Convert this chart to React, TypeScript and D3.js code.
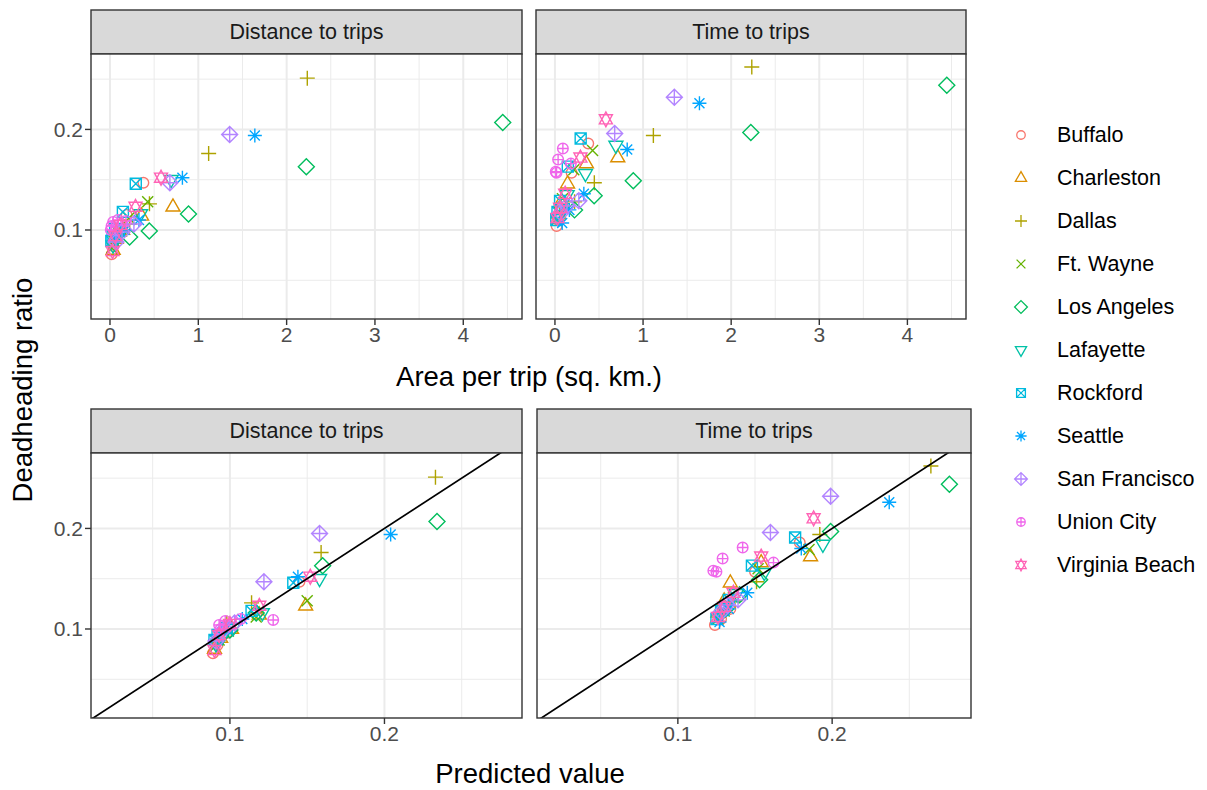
import React from "react";
import * as d3 from "d3";

const cities = ["Buffalo", "Charleston", "Dallas", "Ft. Wayne", "Los Angeles", "Lafayette", "Rockford", "Seattle", "San Francisco", "Union City", "Virginia Beach"];
const colors = ["#F8766D", "#DB8E00", "#AEA200", "#64B200", "#00BD5C", "#00C1A7", "#00BADE", "#00A6FF", "#B385FF", "#EF67EB", "#FF63B6"];

// area per trip (sq. km.) per city
const areaPerTrip = [
  [0.378, 0.189, 0.076, 0.038, 0.019],
  [0.713, 0.357, 0.143, 0.071, 0.036],
  [2.234, 1.117, 0.447, 0.223, 0.112],
  [0.427, 0.214, 0.085, 0.043, 0.021],
  [4.447, 2.223, 0.889, 0.445, 0.222],
  [0.692, 0.346, 0.138, 0.069, 0.035],
  [0.292, 0.146, 0.058, 0.029, 0.015],
  [1.640, 0.820, 0.328, 0.164, 0.082],
  [1.355, 0.678, 0.271, 0.136, 0.068],
  [0.181, 0.090, 0.036, 0.018, 0.009],
  [0.578, 0.289, 0.116, 0.058, 0.029],
];
// deadheading ratio, distance to trips
const distRatio = [
  [0.147, 0.115, 0.096, 0.084, 0.076],
  [0.123, 0.114, 0.100, 0.091, 0.080],
  [0.251, 0.176, 0.126, 0.106, 0.094],
  [0.128, 0.112, 0.098, 0.089, 0.082],
  [0.207, 0.163, 0.116, 0.099, 0.093],
  [0.150, 0.116, 0.101, 0.092, 0.085],
  [0.146, 0.118, 0.101, 0.094, 0.089],
  [0.194, 0.152, 0.110, 0.100, 0.094],
  [0.195, 0.147, 0.106, 0.098, 0.088],
  [0.109, 0.110, 0.108, 0.104, 0.100],
  [0.152, 0.123, 0.105, 0.094, 0.079],
];
// deadheading ratio, time to trips
const timeRatio = [
  [0.186, 0.157, 0.120, 0.110, 0.104],
  [0.172, 0.166, 0.146, 0.128, 0.116],
  [0.262, 0.194, 0.147, 0.128, 0.118],
  [0.179, 0.160, 0.131, 0.118, 0.110],
  [0.244, 0.197, 0.149, 0.134, 0.120],
  [0.184, 0.156, 0.135, 0.122, 0.112],
  [0.191, 0.163, 0.129, 0.118, 0.110],
  [0.226, 0.180, 0.136, 0.120, 0.107],
  [0.232, 0.196, 0.129, 0.124, 0.117],
  [0.166, 0.181, 0.170, 0.157, 0.158],
  [0.210, 0.172, 0.136, 0.122, 0.112],
];
// predicted value, distance model
const predDist = [
  [0.145, 0.117, 0.098, 0.092, 0.089],
  [0.149, 0.119, 0.101, 0.094, 0.090],
  [0.233, 0.159, 0.114, 0.098, 0.092],
  [0.150, 0.117, 0.099, 0.093, 0.090],
  [0.234, 0.160, 0.117, 0.100, 0.094],
  [0.158, 0.121, 0.102, 0.095, 0.091],
  [0.141, 0.114, 0.098, 0.092, 0.090],
  [0.204, 0.144, 0.108, 0.097, 0.092],
  [0.158, 0.122, 0.103, 0.095, 0.091],
  [0.128, 0.107, 0.097, 0.093, 0.094],
  [0.152, 0.119, 0.100, 0.093, 0.090],
];
// predicted value, time model
const predTime = [
  [0.179, 0.150, 0.134, 0.128, 0.124],
  [0.186, 0.154, 0.134, 0.130, 0.126],
  [0.264, 0.192, 0.151, 0.137, 0.130],
  [0.185, 0.152, 0.136, 0.130, 0.126],
  [0.276, 0.199, 0.153, 0.140, 0.131],
  [0.194, 0.156, 0.138, 0.131, 0.127],
  [0.176, 0.148, 0.133, 0.128, 0.125],
  [0.237, 0.180, 0.145, 0.133, 0.127],
  [0.199, 0.160, 0.139, 0.132, 0.128],
  [0.162, 0.142, 0.129, 0.125, 0.123],
  [0.188, 0.154, 0.136, 0.130, 0.126],
];

const topXTicks = [0, 1, 2, 3, 4];
const topXMinor = [0.5, 1.5, 2.5, 3.5, 4.5];
const botXTicks = [0.1, 0.2];
const botXMinor = [0.05, 0.15, 0.25];
const yTicks = [0.1, 0.2];
const yMinor = [0.05, 0.15, 0.25];
const stripTitles = ["Distance to trips", "Time to trips"];

const FONT = "'Liberation Sans', Arial, sans-serif";

function shapePath(k: number, s: number): string {
  const c = (r: number) => `M${r},0A${r},${r} 0 1,1 ${-r},0A${r},${r} 0 1,1 ${r},0Z`;
  const plus = (a: number) => `M${-a},0L${a},0M0,${-a}L0,${a}`;
  const cross = (a: number) => `M${-a},${-a}L${a},${a}M${-a},${a}L${a},${-a}`;
  const triUp = (a: number) => `M${-a},${0.6 * a}L${a},${0.6 * a}L0,${-1.13 * a}Z`;
  const triDn = (a: number) => `M${-a},${-0.6 * a}L${a},${-0.6 * a}L0,${1.13 * a}Z`;
  const diamond = (a: number) => `M0,${-a}L${a},0L0,${a}L${-a},0Z`;
  switch (k) {
    case 0: return c(5.3 * s);
    case 1: return triUp(7 * s);
    case 2: return plus(7.5 * s);
    case 3: return cross(5.5 * s);
    case 4: return diamond(8 * s);
    case 5: return triDn(7 * s);
    case 6: { const a = 5.5 * s; return `M${-a},${-a}H${a}V${a}H${-a}Z` + cross(a); }
    case 7: return plus(7 * s) + cross(5 * s);
    case 8: return diamond(8 * s) + plus(8 * s);
    case 9: return c(5.3 * s) + plus(5.3 * s);
    case 10: {
      const a = 6.5 * s;
      return `M${-a},${0.7 * a}L${a},${0.7 * a}L0,${-1.15 * a}Z` + `M${-a},${-0.7 * a}L${a},${-0.7 * a}L0,${1.15 * a}Z`;
    }
  }
  return "";
}

const panels = [
  { id: "tl", title: stripTitles[0], x0: 91, x1: 522, y0: 54, y1: 319, xd: [-0.215, 4.665], xs: areaPerTrip, ys: distRatio, xt: topXTicks, xm: topXMinor, line: false, yLab: true, fmt: d3.format("d") },
  { id: "tr", title: stripTitles[1], x0: 536, x1: 966, y0: 54, y1: 319, xd: [-0.215, 4.665], xs: areaPerTrip, ys: timeRatio, xt: topXTicks, xm: topXMinor, line: false, yLab: false, fmt: d3.format("d") },
  { id: "bl", title: stripTitles[0], x0: 91, x1: 522, y0: 453, y1: 718, xd: [0.0101, 0.289], xs: predDist, ys: distRatio, xt: botXTicks, xm: botXMinor, line: true, yLab: true, fmt: d3.format(".1f") },
  { id: "br", title: stripTitles[1], x0: 537, x1: 971, y0: 453, y1: 718, xd: [0.0087, 0.29], xs: predTime, ys: timeRatio, xt: botXTicks, xm: botXMinor, line: true, yLab: false, fmt: d3.format(".1f") },
];

const STRIP_H = 44;
const yDomain = [0.0115, 0.275];

function Panel({ p }: { p: any }) {
  const x = d3.scaleLinear().domain(p.xd).range([p.x0, p.x1]);
  const y = d3.scaleLinear().domain(yDomain).range([p.y1, p.y0]);
  const yfmt = d3.format(".1f");
  const lineGen = d3.line<number>().x((v) => x(v)).y((v) => y(v));
  return (
    <g>
      <defs>
        <clipPath id={`clip-${p.id}`}>
          <rect x={p.x0} y={p.y0} width={p.x1 - p.x0} height={p.y1 - p.y0} />
        </clipPath>
      </defs>
      <rect x={p.x0} y={p.y0 - STRIP_H} width={p.x1 - p.x0} height={STRIP_H} fill="#D9D9D9" stroke="#333333" strokeWidth={1.4} />
      <text x={(p.x0 + p.x1) / 2} y={p.y0 - STRIP_H / 2} textAnchor="middle" dominantBaseline="central" fontFamily={FONT} fontSize={21.5} fill="#1A1A1A">{p.title}</text>
      <rect x={p.x0} y={p.y0} width={p.x1 - p.x0} height={p.y1 - p.y0} fill="#FFFFFF" />
      <g clipPath={`url(#clip-${p.id})`}>
        {p.xm.map((v: number) => <line key={"xm" + v} x1={x(v)} x2={x(v)} y1={p.y0} y2={p.y1} stroke="#EBEBEB" strokeWidth={1} />)}
        {yMinor.map((v) => <line key={"ym" + v} x1={p.x0} x2={p.x1} y1={y(v)} y2={y(v)} stroke="#EBEBEB" strokeWidth={1} />)}
        {p.xt.map((v: number) => <line key={"xM" + v} x1={x(v)} x2={x(v)} y1={p.y0} y2={p.y1} stroke="#EBEBEB" strokeWidth={2} />)}
        {yTicks.map((v) => <line key={"yM" + v} x1={p.x0} x2={p.x1} y1={y(v)} y2={y(v)} stroke="#EBEBEB" strokeWidth={2} />)}
        {cities.map((c, ci) =>
          p.xs[ci].map((xv: number, j: number) => (
            <path key={c + j} d={shapePath(ci, 1)} transform={`translate(${x(xv)},${y(p.ys[ci][j])})`} fill="none" stroke={colors[ci]} strokeWidth={1.4} />
          ))
        )}
        {p.line && <path d={lineGen([0, 0.3]) || ""} stroke="#000000" strokeWidth={1.7} fill="none" />}
      </g>
      <rect x={p.x0} y={p.y0} width={p.x1 - p.x0} height={p.y1 - p.y0} fill="none" stroke="#333333" strokeWidth={1.4} />
      {p.xt.map((v: number) => (
        <g key={"xt" + v}>
          <line x1={x(v)} x2={x(v)} y1={p.y1} y2={p.y1 + 6} stroke="#333333" strokeWidth={1.4} />
          <text x={x(v)} y={p.y1 + 23} textAnchor="middle" fontFamily={FONT} fontSize={21} fill="#4D4D4D">{p.fmt(v)}</text>
        </g>
      ))}
      {p.yLab && yTicks.map((v) => (
        <g key={"yt" + v}>
          <line x1={p.x0 - 6} x2={p.x0} y1={y(v)} y2={y(v)} stroke="#333333" strokeWidth={1.4} />
          <text x={p.x0 - 8} y={y(v)} textAnchor="end" dominantBaseline="central" fontFamily={FONT} fontSize={21} fill="#4D4D4D">{yfmt(v)}</text>
        </g>
      ))}
    </g>
  );
}

export default function App() {
  const legendY = d3.scaleLinear().domain([0, cities.length - 1]).range([135, 565]);
  return (
    <svg width={1207} height={790} style={{ position: "absolute", left: 0, top: 0, background: "#FFFFFF" }}>
      <rect x={0} y={0} width={1207} height={790} fill="#FFFFFF" />
      {panels.map((p) => <Panel key={p.id} p={p} />)}
      <text x={529} y={376} textAnchor="middle" dominantBaseline="central" fontFamily={FONT} fontSize={27.5} fill="#000000">Area per trip (sq. km.)</text>
      <text x={530} y={773} textAnchor="middle" dominantBaseline="central" fontFamily={FONT} fontSize={27.5} fill="#000000">Predicted value</text>
      <text transform={`translate(22,390) rotate(-90)`} textAnchor="middle" dominantBaseline="central" fontFamily={FONT} fontSize={27.5} fill="#000000">Deadheading ratio</text>
      {cities.map((c, i) => (
        <g key={c} transform={`translate(0,${legendY(i)})`}>
          <path d={shapePath(i, 0.8)} transform="translate(1021,0)" fill="none" stroke={colors[i]} strokeWidth={1.3} />
          <text x={1057} y={0} dominantBaseline="central" fontFamily={FONT} fontSize={21.5} fill="#000000">{c}</text>
        </g>
      ))}
    </svg>
  );
}
